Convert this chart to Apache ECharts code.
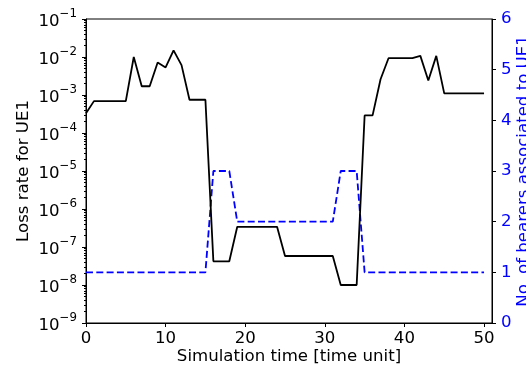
<!DOCTYPE html>
<html>
<head>
<meta charset="utf-8">
<script src="https://cdn.jsdelivr.net/npm/echarts@6/dist/echarts.min.js"></script>
<style>
html,body{margin:0;padding:0;background:#fff;}
#chart{width:526px;height:371px;}
</style>
</head>
<body>
<div id="chart"></div>
<script>
const times = [0,1,2,3,4,5,6,7,8,9,10,11,12,13,14,15,16,17,18,19,20,21,22,23,24,25,26,27,28,29,30,31,32,33,34,35,36,37,38,39,40,41,42,43,44,45,46,47,48,49,50];
const lossRate = [3.3e-4,6.9e-4,6.9e-4,6.9e-4,6.9e-4,6.9e-4,1.0e-2,1.7e-3,1.7e-3,7.2e-3,5.3e-3,1.5e-2,6.1e-3,7.5e-4,7.5e-4,7.5e-4,
  4.2e-8,4.2e-8,4.2e-8,3.4e-7,3.4e-7,3.4e-7,3.4e-7,3.4e-7,3.4e-7,5.8e-8,5.8e-8,5.8e-8,5.8e-8,5.8e-8,5.8e-8,5.8e-8,
  1.0e-8,1.0e-8,1.0e-8,2.9e-4,2.9e-4,2.6e-3,9.3e-3,9.3e-3,9.3e-3,9.3e-3,1.07e-2,2.4e-3,1.07e-2,1.1e-3,1.1e-3,1.1e-3,1.1e-3,1.1e-3,1.1e-3];
const bearers = [1,1,1,1,1,1,1,1,1,1,1,1,1,1,1,1,3,3,3,2,2,2,2,2,2,2,2,2,2,2,2,2,3,3,3,1,1,1,1,1,1,1,1,1,1,1,1,1,1,1,1];
const xTicks = [0,10,20,30,40,50];
const rightTicks = [0,1,2,3,4,5,6];
const leftExponents = [-9,-8,-7,-6,-5,-4,-3,-2,-1];
const minorMultipliers = [2,3,4,5,6,7,8,9];

const FONT = 'DejaVu Sans';
const FS = 16.6;
const BLUE = '#0000ff';

const minorTickValues = [];
leftExponents.slice(0, -1).forEach(function (e) {
  minorMultipliers.forEach(function (m) { minorTickValues.push(m * Math.pow(10, e)); });
});

const chart = echarts.init(document.getElementById('chart'), null, {renderer: 'canvas'});
chart.setOption({
  animation: false,
  backgroundColor: '#fff',
  grid: {left: 86, right: 34, top: 19, bottom: 48, containLabel: false, outerBoundsMode: 'none',
    show: true, borderColor: '#000', borderWidth: 1, backgroundColor: 'transparent'},
  xAxis: {
    type: 'value', min: 0, max: 51, interval: 10,
    name: 'Simulation time [time unit]', nameLocation: 'middle', nameGap: 25, nameMoveOverlap: false,
    nameTextStyle: {fontFamily: FONT, fontSize: FS, color: '#000'},
    axisLine: {show: true, onZero: false, lineStyle: {color: '#000', width: 1}},
    axisTick: {show: true, length: 4, lineStyle: {color: '#000'}, customValues: xTicks},
    axisLabel: {fontFamily: FONT, fontSize: FS, color: '#000', margin: 7, customValues: xTicks,
      formatter: function (v) { return (v % 10 === 0) ? String(v) : ''; }},
    splitLine: {show: false}
  },
  yAxis: [
    {
      type: 'log', logBase: 10, min: 1e-9, max: 1e-1, interval: 1, position: 'left',
      name: 'Loss rate for UE1', nameLocation: 'middle', nameGap: 54, nameRotate: 90, nameMoveOverlap: false,
      nameTextStyle: {fontFamily: FONT, fontSize: FS, color: '#000'},
      axisLine: {show: true, lineStyle: {color: '#000', width: 1}},
      axisTick: {show: true, length: 4, lineStyle: {color: '#000'}},
      axisLabel: {
        margin: 9, fontFamily: FONT,
        formatter: function (v) {
          const e = Math.round(Math.log10(v));
          return '{b|10}{s|\u2212' + Math.abs(e) + '}';
        },
        rich: {
          b: {fontFamily: FONT, fontSize: FS, color: '#000', verticalAlign: 'bottom', lineHeight: 23},
          s: {fontFamily: FONT, fontSize: 11.8, color: '#000', verticalAlign: 'top', lineHeight: 23}
        }
      },
      splitLine: {show: false}
    },
    {
      type: 'value', min: 0, max: 6, interval: 1, position: 'right',
      name: 'No. of bearers associated to UE1', nameLocation: 'middle', nameGap: 23, nameRotate: 90, nameMoveOverlap: false,
      nameTextStyle: {fontFamily: FONT, fontSize: FS, color: BLUE},
      axisLine: {show: true, lineStyle: {color: '#000', width: 1}},
      axisTick: {show: true, length: 4, lineStyle: {color: '#000'}},
      axisLabel: {fontFamily: FONT, fontSize: FS, color: BLUE, margin: 9},
      splitLine: {show: false}
    },
    {
      type: 'log', logBase: 10, min: 1e-9, max: 1e-1, position: 'left',
      axisLine: {show: false},
      axisTick: {show: true, length: 2, lineStyle: {color: '#000'}, customValues: minorTickValues},
      axisLabel: {show: false},
      splitLine: {show: false}
    }
  ],
  series: [
    {
      type: 'line', yAxisIndex: 1, showSymbol: false, symbol: 'none',
      data: times.map(function (t, i) { return [t, bearers[i]]; }),
      lineStyle: {color: BLUE, width: 1.8, type: [7, 3.3]},
      z: 2
    },
    {
      type: 'line', yAxisIndex: 0, showSymbol: false, symbol: 'none',
      data: times.map(function (t, i) { return [t, lossRate[i]]; }),
      lineStyle: {color: '#000', width: 1.8},
      z: 3
    }
  ]
});
</script>
</body>
</html>
